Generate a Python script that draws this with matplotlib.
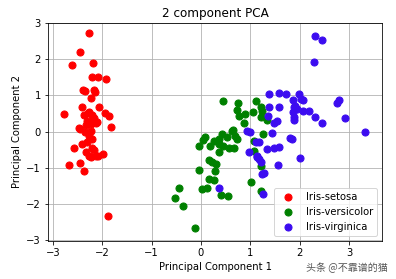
import matplotlib
matplotlib.use("Agg")
import matplotlib.pyplot as plt

targets = ["Iris-setosa", "Iris-versicolor", "Iris-virginica"]
colors = ["r", "g", "#3c0cf0"]

setosa_pc1 = [-2.26, -2.46, -2.62, -2.19, -2.21, -2.08, -1.92, -2.38, -2.35, -2.16,
              -2.14, -2.22, -2.40, -2.06, -2.78, -2.28, -2.36, -2.20, -2.26, -1.95,
              -1.87, -2.16, -2.30, -2.20, -2.10, -2.33, -2.23, -2.13, -2.47, -1.83,
              -2.23, -2.26, -2.21, -2.40, -2.31, -2.58, -2.20, -2.17, -2.32, -2.26,
              -2.12, -1.98, -2.09, -2.22, -2.67, -2.46, -2.37, -1.89, -2.34, -2.45]
setosa_pc2 = [2.71, 2.19, 1.84, 1.88, 1.51, 1.52, 1.44, 1.16, 1.13, 1.16,
              1.08, 0.93, 0.67, 0.69, 0.49, 0.51, 0.47, 0.47, 0.55, 0.51,
              0.44, 0.38, 0.30, 0.28, 0.27, 0.17, 0.20, 0.23, 0.10, 0.12,
              0.03, -0.11, -0.20, -0.34, -0.30, -0.44, -0.45, -0.50, -0.57, -0.67,
              -0.67, -0.62, -0.66, -0.71, -0.93, -0.88, -1.08, -2.34, 0.00, 0.07]

versicolor_pc1 = [0.44, 0.75, 1.11, 0.72, 0.89, 1.06, 1.24, 1.21, 0.77, 0.87,
                  1.21, 1.34, 0.62, 0.64, 0.42, 0.68, 0.72, 0.53, 0.09, 0.04,
                  0.26, 0.36, -0.03, 0.19, 0.37, 0.45, 0.56, 0.67, 0.37, 1.26,
                  1.07, 1.07, 0.16, 0.23, 0.30, 0.29, -0.03, 0.16, 0.27, 1.02,
                  1.21, -0.45, 0.02, 0.13, -0.52, -0.37, 0.40, 0.54, 1.21, -0.13]
versicolor_pc2 = [0.84, 0.79, 0.85, 0.60, 0.49, 0.53, 0.58, 0.68, 0.42, 0.24,
                  0.40, 0.31, 0.03, 0.05, -0.06, -0.11, -0.20, -0.14, -0.16, -0.23,
                  -0.25, -0.20, -0.40, -0.39, -0.34, -0.39, -0.44, -0.44, -0.57, -0.07,
                  -0.25, -0.53, -0.77, -0.85, -0.90, -1.09, -1.05, -1.31, -1.34, -1.38,
                  -0.94, -1.55, -1.57, -1.56, -1.84, -2.05, -1.76, -1.79, -1.64, -2.67]

virginica_pc1 = [2.32, 2.46, 2.29, 1.38, 1.58, 1.73, 1.98, 2.02, 2.06, 1.86,
                 2.80, 2.76, 1.37, 1.59, 1.88, 1.87, 2.06, 2.19, 2.31, 2.46,
                 2.92, 3.32, 1.35, 1.88, 1.88, 1.48, 1.55, 0.94, 1.00, 1.44,
                 1.11, 1.17, 1.80, 1.85, 1.34, 1.48, 1.59, 0.97, 1.14, 1.17,
                 1.21, 2.00, 1.56, 1.24, 0.37, 1.26, 1.94, 1.90, 1.27, 1.14]
virginica_pc2 = [2.64, 2.53, 1.91, 1.03, 1.07, 1.03, 1.05, 0.91, 0.86, 0.88,
                 0.86, 0.79, 0.69, 0.68, 0.68, 0.54, 0.58, 0.56, 0.40, 0.24,
                 0.38, 0.00, 0.42, 0.40, 0.31, 0.23, 0.28, 0.03, 0.00, -0.05,
                 -0.28, -0.29, -0.18, -0.20, -0.48, -0.44, -0.42, -0.57, -0.67, -0.76,
                 -0.85, -0.73, -0.92, -1.18, -1.55, -1.73, 0.62, 0.72, -1.13, -0.71]

series = [(setosa_pc1, setosa_pc2), (versicolor_pc1, versicolor_pc2), (virginica_pc1, virginica_pc2)]

fig = plt.figure(figsize=(5.5, 3.875), dpi=72)
ax = fig.add_axes([0.121, 0.136, 0.844, 0.782])
for (xs, ys), c, t in zip(series, colors, targets):
    ax.scatter(xs, ys, c=c, s=50, label=t)

ax.set_title("2 component PCA", fontsize=12)
ax.set_xlabel("Principal Component 1", fontsize=10)
ax.set_ylabel("Principal Component 2", fontsize=10)
ax.tick_params(labelsize=10)
ax.set_xlim(-3.1, 3.67)
ax.set_ylim(-3.02, 3.0)
ax.set_xticks(range(-3, 4))
ax.set_yticks(range(-3, 4))
ax.grid(True)
ax.set_axisbelow(True)
ax.legend(loc="lower right", fontsize=10)

fig.text(0.98, 0.02, "头条 @不靠谱的猫", ha="right", va="bottom", fontsize=10,
         color="#555555", family=["Noto Sans CJK SC", "DejaVu Sans"])

fig.savefig("out.png", dpi=72)
